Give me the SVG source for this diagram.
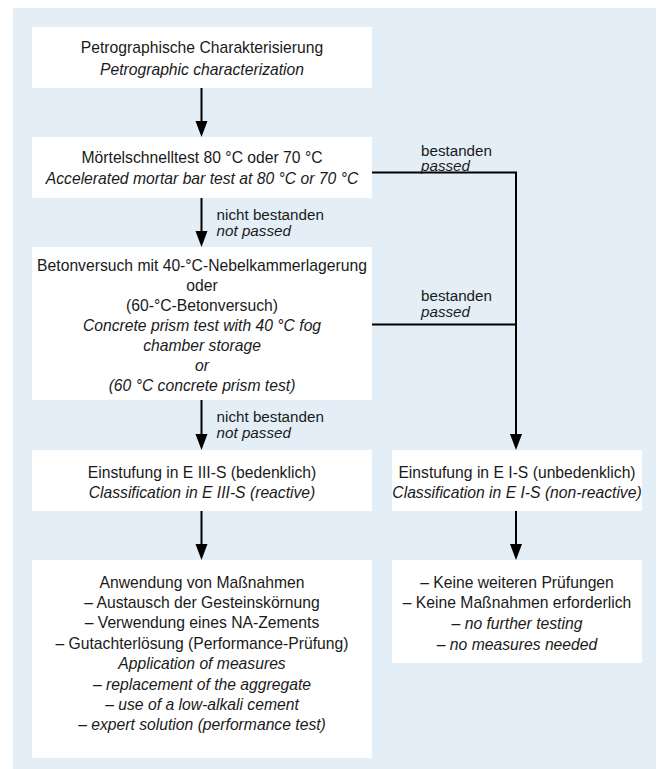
<svg xmlns="http://www.w3.org/2000/svg" width="662" height="769" viewBox="0 0 662 769">
<style>
.box{fill:#ffffff;stroke:none}
.t{font-family:"Liberation Sans",Arial,sans-serif;font-size:15.7px;fill:#1a1a1a;text-anchor:middle}
.i{font-style:italic}
.l{font-family:"Liberation Sans",Arial,sans-serif;font-size:15.2px;fill:#1a1a1a;text-anchor:start}
.c{stroke:#000000;stroke-width:2;fill:none}
.h{fill:#000000;stroke:none}
</style>
<rect x="13" y="8" width="643" height="761" fill="#e3eef6"/>
<g id="connectors">
<line class="c" x1="201.5" y1="88" x2="201.5" y2="121"/>
<path class="h" d="M195.5,121 L207.5,121 L201.5,137 Z"/>
<line class="c" x1="201.5" y1="198" x2="201.5" y2="231"/>
<path class="h" d="M195.5,231 L207.5,231 L201.5,247 Z"/>
<line class="c" x1="201.5" y1="400" x2="201.5" y2="434"/>
<path class="h" d="M195.5,434 L207.5,434 L201.5,450 Z"/>
<line class="c" x1="201.5" y1="511" x2="201.5" y2="544"/>
<path class="h" d="M195.5,544 L207.5,544 L201.5,560 Z"/>
<line class="c" x1="516" y1="511" x2="516" y2="544"/>
<path class="h" d="M510,544 L522,544 L516,560 Z"/>
<polyline class="c" points="372,172.5 516,172.5 516,434"/>
<path class="h" d="M510,434 L522,434 L516,450 Z"/>
<line class="c" x1="372" y1="324.5" x2="516" y2="324.5"/>
<text class="l" x="421" y="155.5">bestanden</text>
<text class="l i" x="421" y="171">passed</text>
<text class="l" x="216.6" y="219.5">nicht bestanden</text>
<text class="l i" x="216.6" y="235.5">not passed</text>
<text class="l" x="421" y="300.5">bestanden</text>
<text class="l i" x="421" y="316.5">passed</text>
<text class="l" x="216.6" y="421.5">nicht bestanden</text>
<text class="l i" x="216.6" y="437.5">not passed</text>
</g>
<g id="n1">
<rect class="box" x="32" y="27" width="340" height="61"/>
<text class="t" x="202" y="53">Petrographische Charakterisierung</text>
<text class="t i" x="202" y="74.5">Petrographic characterization</text>
</g>
<g id="n2">
<rect class="box" x="32" y="137" width="340" height="61"/>
<text class="t" x="202" y="163">Mörtelschnelltest 80 °C oder 70 °C</text>
<text class="t i" x="202" y="184">Accelerated mortar bar test at 80 °C or 70 °C</text>
</g>
<g id="n3">
<rect class="box" x="32" y="247" width="340" height="153"/>
<text class="t" x="202" y="270.5">Betonversuch mit 40-°C-Nebelkammerlagerung</text>
<text class="t" x="202" y="290.5">oder</text>
<text class="t" x="202" y="310.5">(60-°C-Betonversuch)</text>
<text class="t i" x="202" y="330.5">Concrete prism test with 40 °C fog</text>
<text class="t i" x="202" y="350.5">chamber storage</text>
<text class="t i" x="202" y="370.5">or</text>
<text class="t i" x="202" y="390.5">(60 °C concrete prism test)</text>
</g>
<g id="n4">
<rect class="box" x="32" y="450" width="340" height="61"/>
<text class="t" x="202" y="477.5">Einstufung in E III-S (bedenklich)</text>
<text class="t i" x="202" y="498">Classification in E III-S (reactive)</text>
</g>
<g id="n5">
<rect class="box" x="392" y="450" width="250" height="61"/>
<text class="t" x="517" y="477.5">Einstufung in E I-S (unbedenklich)</text>
<text class="t i" x="517" y="498">Classification in E I-S (non-reactive)</text>
</g>
<g id="n6">
<rect class="box" x="32" y="560" width="340" height="198"/>
<text class="t" x="202" y="587.5">Anwendung von Maßnahmen</text>
<text class="t" x="202" y="607.9">– Austausch der Gesteinskörnung</text>
<text class="t" x="202" y="628.3">– Verwendung eines NA-Zements</text>
<text class="t" x="202" y="648.7">– Gutachterlösung (Performance-Prüfung)</text>
<text class="t i" x="202" y="669.1">Application of measures</text>
<text class="t i" x="202" y="689.5">– replacement of the aggregate</text>
<text class="t i" x="202" y="709.9">– use of a low-alkali cement</text>
<text class="t i" x="202" y="730.3">– expert solution (performance test)</text>
</g>
<g id="n7">
<rect class="box" x="392" y="560" width="250" height="103"/>
<text class="t" x="517" y="587.5">– Keine weiteren Prüfungen</text>
<text class="t" x="517" y="608.3">– Keine Maßnahmen erforderlich</text>
<text class="t i" x="517" y="629.1">– no further testing</text>
<text class="t i" x="517" y="649.9">– no measures needed</text>
</g>
</svg>
